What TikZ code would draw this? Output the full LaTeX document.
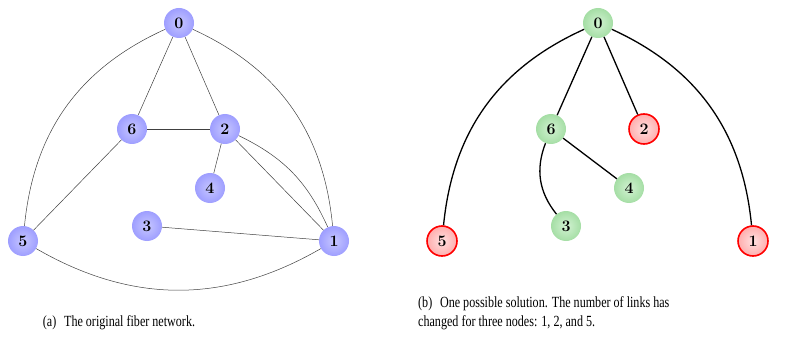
\documentclass[tikz,border=0pt]{standalone}
\usepackage{fontspec}
\newfontfamily\capfont{Liberation Serif}[FakeStretch=0.78]
\definecolor{greenin}{RGB}{210,242,210}
\definecolor{greenout}{RGB}{165,222,165}
\tikzset{
    fibre/.style={circle, minimum size=30pt, inner sep=0pt,
        font=\fontsize{16}{18}\selectfont\bfseries},
    bluenode/.style={fibre, shading=radial, inner color=blue!22, outer color=blue!38},
    greennode/.style={fibre, shading=radial, inner color=greenin, outer color=greenout},
    rednode/.style={fibre, draw=red, line width=1.6pt, shading=radial,
        inner color=red!12, outer color=red!32},
    thinlink/.style={black!75, line width=0.5pt},
    thicklink/.style={black, line width=1.3pt},
    caption/.style={font=\capfont\fontsize{15.5}{19}\selectfont, inner sep=0pt}
}
\begin{document}
\begin{tikzpicture}[x=1pt, y=-1pt]
    \useasboundingbox (0,0) rectangle (786,358);
    % (a) original network
    \foreach \n/\x/\y in {0/179/23, 1/334/241, 2/225/129, 3/147/226, 4/210/188, 5/23/241, 6/132/129} {
        \node[bluenode] (a\n) at (\x,\y) {\n};
    }
    \draw[thinlink] (a0) -- (a6);
    \draw[thinlink] (a0) -- (a2);
    \draw[thinlink] (a6) -- (a2);
    \draw[thinlink] (a2) -- (a4);
    \draw[thinlink] (a6) -- (a5);
    \draw[thinlink] (a3) -- (a1);
    \draw[thinlink] (a2) -- (a1);
    \draw[thinlink] (a2) to[bend left=20] (a1);
    \draw[thinlink] (a0) to[bend right=30] (a5);
    \draw[thinlink] (a0) to[bend left=30] (a1);
    \draw[thinlink] (a5) to[bend right=30] (a1);
    % (b) one solution
    \begin{scope}[xshift=419pt]
        \foreach \n/\x/\y in {0/179/23, 3/147/226, 4/210/188, 6/132/129} {
            \node[greennode] (b\n) at (\x,\y) {\n};
        }
        \foreach \n/\x/\y in {1/334/241, 2/225/129, 5/23/241} {
            \node[rednode] (b\n) at (\x,\y) {\n};
        }
    \end{scope}
    \draw[thicklink] (b0) -- (b6);
    \draw[thicklink] (b0) -- (b2);
    \draw[thicklink] (b6) -- (b4);
    \draw[thicklink] (b6) to[bend right=30] (b3);
    \draw[thicklink] (b0) to[bend right=30] (b5);
    \draw[thicklink] (b0) to[bend left=30] (b1);
    % captions
    \node[caption, anchor=base] (capa) at (119,326) {(a)\enspace The original fiber network.};
    \node[caption, anchor=base west, align=left] (capb) at (418,326)
        {(b)\enspace One possible solution. The number of links has\\
         changed for three nodes: 1, 2, and 5.};
\end{tikzpicture}
\end{document}
